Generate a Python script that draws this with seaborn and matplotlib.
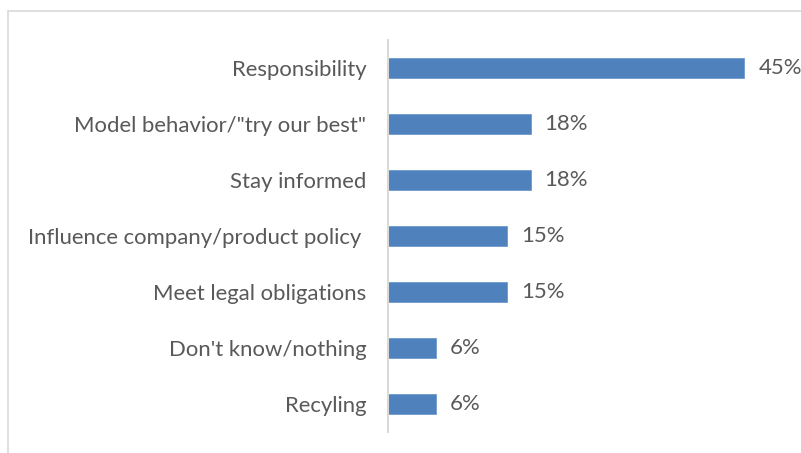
import matplotlib
matplotlib.use("Agg")
import matplotlib.pyplot as plt
import seaborn as sns
import pandas as pd
from matplotlib.lines import Line2D

categories = [
    "Responsibility",
    'Model behavior/"try our best"',
    "Stay informed",
    "Influence company/product policy ",
    "Meet legal obligations",
    "Don't know/nothing",
    "Recyling",
]
values = [45, 18, 18, 15, 15, 6, 6]

df = pd.DataFrame({"category": categories, "value": values})

sns.set_theme(style="white")
plt.rcParams["font.family"] = ["Lato", "DejaVu Sans"]

text_color = "#595959"
bar_color = "#4F81BD"

fig = plt.figure(figsize=(8.01, 4.53), dpi=100)
W, H = 801, 453
ax = fig.add_axes([388 / W, 1 - 432 / H, (784 - 388) / W, (432 - 40) / H])

sns.barplot(data=df, x="value", y="category", orient="h", color=bar_color,
            saturation=1, width=0.36, edgecolor="#6f9bd1", linewidth=0.6, ax=ax)

ax.set_xlim(0, 50)
ax.set_xlabel("")
ax.set_ylabel("")
ax.set_xticks([])
ax.tick_params(axis="y", length=0, pad=15.5, labelsize=15.9, labelcolor=text_color)
for s in ["top", "right", "bottom"]:
    ax.spines[s].set_visible(False)
ax.spines["left"].set_color("#d9d9d9")
ax.spines["left"].set_linewidth(1.5)

for i, v in enumerate(values):
    ax.annotate(f"{v}%", xy=(v, i), xytext=(14, 0), textcoords="offset pixels",
                va="center", ha="left", fontsize=15.9, color=text_color)

# chart frame (top and left edges)
fig.add_artist(Line2D([8 / W, 8 / W], [0, 1 - 11 / H], transform=fig.transFigure,
                      color="#d9d9d9", linewidth=1.2))
fig.add_artist(Line2D([8 / W, 1], [1 - 11 / H, 1 - 11 / H], transform=fig.transFigure,
                      color="#d9d9d9", linewidth=1.2))

fig.savefig("out.png", dpi=100)
